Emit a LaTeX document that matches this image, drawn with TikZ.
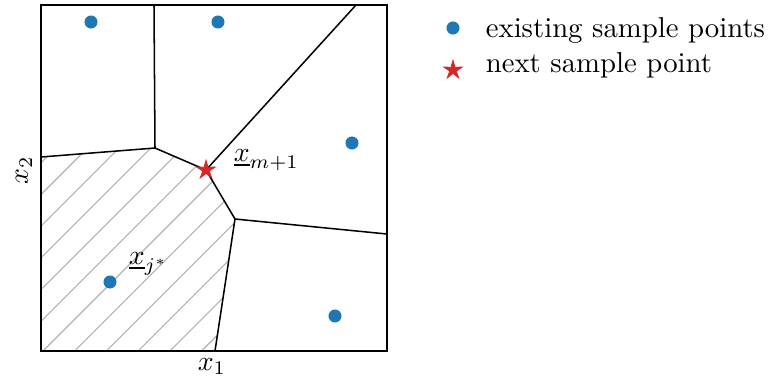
\documentclass[tikz,border=0pt]{standalone}
\usepackage{amsmath,amssymb}
\usetikzlibrary{shapes.geometric,positioning}
\definecolor{tabblue}{HTML}{1F77B4}
\definecolor{tabred}{HTML}{D62728}

\begin{document}
\begin{tikzpicture}[x=0.36pt, y=-0.36pt,
    every node/.style={font=\fontsize{10.35}{12.4}\selectfont},
    sample/.style={circle, fill=tabblue, inner sep=0pt, minimum size=4.7pt},
    nextpt/.style={star, star points=5, star point ratio=2.9, fill=tabred, draw=tabred, line width=0.3pt, inner sep=0pt, minimum size=7pt},
    cell/.style={line width=0.55pt},
    hatchline/.style={black!30, line width=0.4pt}
]
\useasboundingbox (0,0) rectangle (769,383);

% Voronoi vertices
\coordinate (v1) at (155,148);
\coordinate (v2) at (206,170);
\coordinate (v3) at (235,219);
\coordinate (t1) at (154,5);
\coordinate (t2) at (356,5);
\coordinate (l1) at (41,157);
\coordinate (r1) at (387,234);
\coordinate (b1) at (215,351);

% hatched cell
\begin{scope}
  \clip (l1) -- (v1) -- (v2) -- (v3) -- (b1) -- (41,351) -- cycle;
  \foreach \k in {-6,...,6}
    \draw[hatchline] (43+31.7*\k,351) -- ++(260,-260);
\end{scope}

\draw[cell] (t1) -- (v1);
\draw[cell] (l1) -- (v1);
\draw[cell] (v1) -- (v2);
\draw[cell] (v2) -- (t2);
\draw[cell] (v2) -- (v3);
\draw[cell] (v3) -- (r1);
\draw[cell] (v3) -- (b1);

\draw[line width=0.8pt] (41,5) rectangle (387,351);

\node[sample] (p1) at (91,22) {};
\node[sample] (p2) at (218,22) {};
\node[sample] (p3) at (352,143) {};
\node[sample] (p4) at (110,282) {};
\node[sample] (p5) at (335,316) {};
\node[nextpt] (xnew) at (v2) {};

\node[anchor=base west] (lnew) at (224,161) {$\underline{x}_{m+1}$};
\node[anchor=base west] (lbest) at (119,264) {$\underline{x}_{j^*}$};

\node[anchor=base] (xlab) at (212,370) {$x_1$};
\node[anchor=base, rotate=90] (ylab) at (28,170) {$x_2$};

% legend
\node[sample] (ldot) at (453,28) {};
\node[anchor=base west] (ltxt) at (476,37) {existing sample points};
\node[nextpt] (lstar) at (453,70) {};
\node[anchor=base west] (lnext) at (476,72) {next sample point};
\end{tikzpicture}
\end{document}
